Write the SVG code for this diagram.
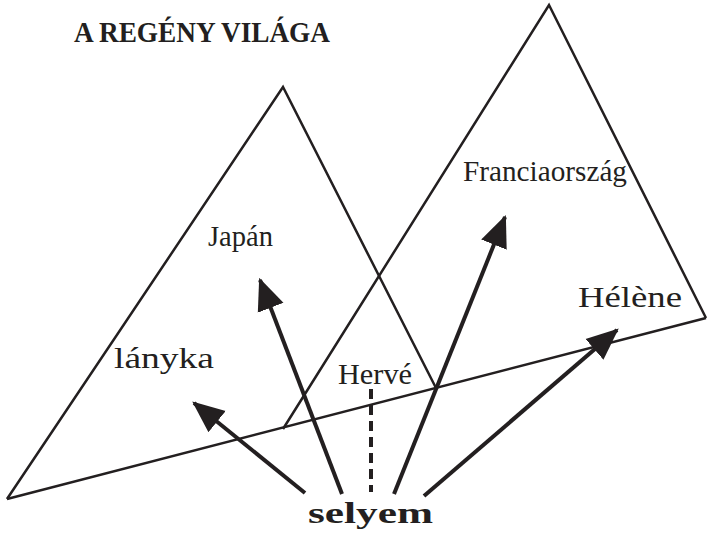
<svg xmlns="http://www.w3.org/2000/svg" width="709" height="535" viewBox="0 0 709 535">
<style>
.tri{fill:none;stroke:#231f20;stroke-width:2.5;stroke-linejoin:miter}
.arr{stroke:#231f20;stroke-width:4;fill:none}
.dash{stroke:#231f20;stroke-width:4;stroke-dasharray:10 6;fill:none}
.lbl{font-family:"Liberation Serif","DejaVu Serif",serif;font-size:30px;fill:#231f20}
.b{font-weight:bold}
</style>
<defs>
<marker id="ah" markerWidth="8" markerHeight="8" refX="6.5" refY="3" orient="auto" markerUnits="strokeWidth" viewBox="0 0 7 6">
<path d="M0,0 L7,3 L0,6 z" fill="#231f20"/>
</marker>
</defs>
<rect width="709" height="535" fill="#fff"/>
<g id="left-triangle">
<polyline class="tri" points="436,388 283,87 7,499"/>
</g>
<g id="right-triangle">
<polyline class="tri" points="283,429 549,5 706,318"/>
</g>
<g id="baseline">
<line class="tri" x1="7" y1="499" x2="706" y2="318"/>
</g>
<g id="connectors">
<line class="arr" x1="305" y1="493" x2="194" y2="403" marker-end="url(#ah)"/>
<line class="arr" x1="342" y1="494" x2="260" y2="280" marker-end="url(#ah)"/>
<line class="dash" x1="371" y1="389" x2="371" y2="492"/>
<line class="arr" x1="394" y1="494" x2="505" y2="217" marker-end="url(#ah)"/>
<line class="arr" x1="424" y1="496" x2="617" y2="330" marker-end="url(#ah)"/>
</g>
<g id="title"><text class="lbl b" x="74" y="42" textLength="256" lengthAdjust="spacingAndGlyphs" font-size="26">A REGÉNY VILÁGA</text></g>
<g id="japan"><text class="lbl" x="208" y="246" textLength="65" lengthAdjust="spacingAndGlyphs">Japán</text></g>
<g id="lanyka"><text class="lbl" x="114" y="368" textLength="100" lengthAdjust="spacingAndGlyphs">lányka</text></g>
<g id="herve"><text class="lbl" x="338" y="384" textLength="74" lengthAdjust="spacingAndGlyphs">Hervé</text></g>
<g id="franciaorszag"><text class="lbl" x="463" y="181" textLength="164" lengthAdjust="spacingAndGlyphs">Franciaország</text></g>
<g id="helene"><text class="lbl" x="578" y="307" textLength="104" lengthAdjust="spacingAndGlyphs">Hélène</text></g>
<g id="selyem"><text class="lbl b" x="308" y="523" textLength="125" lengthAdjust="spacingAndGlyphs">selyem</text></g>
</svg>
